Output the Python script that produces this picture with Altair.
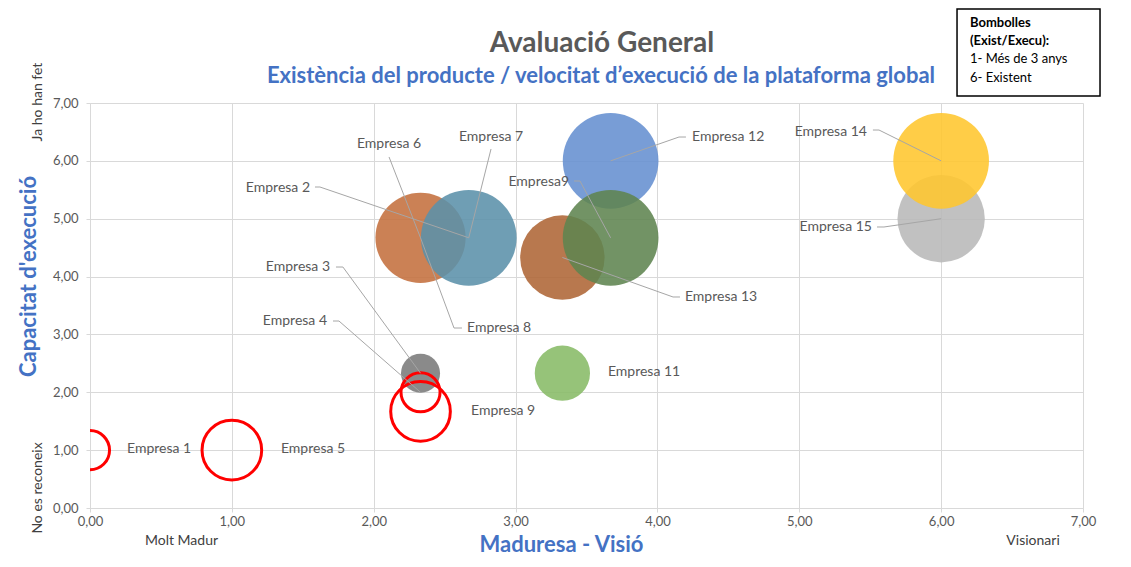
import altair as alt
import pandas as pd

# ---------------- data ----------------
bubble_names = ["Empresa 1", "Empresa 2", "Empresa 3", "Empresa 4", "Empresa 5", "Empresa 7",
                "Empresa 9", "Empresa9", "Empresa 11", "Empresa 12", "Empresa 13", "Empresa 14", "Empresa 15"]
bubble_x = [0.00, 2.33, 2.33, 2.33, 1.00, 2.67, 2.33, 3.67, 3.33, 3.67, 3.33, 6.00, 6.00]
bubble_y = [1.00, 4.67, 2.33, 2.00, 1.00, 4.67, 1.67, 4.67, 2.33, 6.00, 4.33, 6.00, 5.00]
bubble_size = [1.00, 5.33, 1.00, 1.00, 2.33, 6.00, 2.33, 6.00, 2.00, 6.00, 4.67, 6.00, 5.00]
bubble_fill = ["none", "#C4703D", "#7A7A7A", "none", "none", "#5B91AA",
               "none", "#5E8450", "#88BB66", "#6590D0", "#AE6535", "#FFC62E", "#B8B8B8"]
bubble_z = [20, 1, 7, 21, 20, 2, 22, 5, 6, 4, 3, 9, 8]

label_text = ["Empresa 1", "Empresa 5", "Empresa 9", "Empresa 11", "Empresa 4", "Empresa 3",
              "Empresa 2", "Empresa 6", "Empresa 8", "Empresa 7", "Empresa 12", "Empresa9",
              "Empresa 13", "Empresa 14", "Empresa 15"]
label_x = [0.261, 1.346, 2.686, 3.651, 1.671, 1.692, 1.551, 2.108, 2.658, 2.827, 4.244, 3.377,
           4.194, 5.477, 5.512]
label_y = [1.020, 1.020, 1.677, 2.351, 3.232, 4.165, 5.531, 6.291, 3.111, 6.412, 6.412, 5.635,
           3.647, 6.499, 4.857]
label_align = ["left", "left", "left", "left", "right", "right", "right", "center", "left",
               "center", "left", "right", "left", "right", "right"]

# leader lines: start -> elbow -> target point
leader_names = ["Empresa 4", "Empresa 3", "Empresa 2", "Empresa 6", "Empresa 8", "Empresa 7",
                "Empresa 12", "Empresa9", "Empresa 13", "Empresa 14", "Empresa 15"]
leader_x0 = [1.713, 1.734, 1.586, 2.108, 2.622, 2.827, 4.201, 3.412, 4.159, 5.519, 5.548]
leader_y0 = [3.232, 4.165, 5.548, 6.067, 3.111, 6.205, 6.412, 5.652, 3.647, 6.533, 4.857]
leader_x1 = [1.755, 1.783, 1.621, 2.108, 2.566, 2.827, 4.152, 3.454, 4.110, 5.562, 5.597]
leader_y1 = [3.232, 4.165, 5.548, 6.067, 3.111, 6.205, 6.412, 5.652, 3.647, 6.533, 4.857]
leader_tx = [2.33, 2.33, 2.67, 2.33, 2.33, 2.67, 3.67, 3.67, 3.33, 6.00, 6.00]
leader_ty = [2.00, 2.33, 4.67, 4.67, 4.67, 4.67, 6.00, 4.67, 4.33, 6.00, 5.00]

title_text = "Avaluació General"
subtitle_text = "Existència del producte / velocitat d’execució de la plataforma global"
title_pos = (3.609, 8.020)
subtitle_pos = (3.602, 7.467)

side_text = ["Molt Madur", "Visionari"]
side_x = [0.645, 6.648]
side_y = [-0.570, -0.570]
rot_text = ["Ja ho han fet", "No es reconeix"]
rot_x = [-0.367, -0.367]
rot_y = [7.017, 0.346]

legend_lines = ["Bombolles", "(Exist/Execu):", "1- Més de 3 anys", "6- Existent"]
legend_bold = [True, True, False, False]
legend_x = [6.203, 6.203, 6.203, 6.203]
legend_y = [8.383, 8.072, 7.761, 7.433]
legend_box = dict(x=[6.112], x2=[7.120], y=[8.625], y2=[7.121])

# ---------------- frames ----------------
bub = pd.DataFrame(dict(name=bubble_names, x=bubble_x, y=bubble_y, size=bubble_size,
                        fill=bubble_fill, z=bubble_z))
filled = bub[bub["fill"] != "none"]
outline = bub[bub["fill"] == "none"]

labels = pd.DataFrame(dict(text=label_text, x=label_x, y=label_y, al=label_align))

rows = []
for i, n in enumerate(leader_names):
    rows.append(dict(name=n, i=0, x=leader_x0[i], y=leader_y0[i]))
    rows.append(dict(name=n, i=1, x=leader_x1[i], y=leader_y1[i]))
    rows.append(dict(name=n, i=2, x=leader_tx[i], y=leader_ty[i]))
leaders = pd.DataFrame(rows)

titles = pd.DataFrame(dict(text=[title_text], x=[title_pos[0]], y=[title_pos[1]]))
subtitles = pd.DataFrame(dict(text=[subtitle_text], x=[subtitle_pos[0]], y=[subtitle_pos[1]]))
sides = pd.DataFrame(dict(text=side_text, x=side_x, y=side_y))
rots = pd.DataFrame(dict(text=rot_text, x=rot_x, y=rot_y))
leg = pd.DataFrame(dict(text=legend_lines, bold=legend_bold, x=legend_x, y=legend_y))
box = pd.DataFrame(legend_box)

FONT = "Lato"
lab_expr = "replace(format(datum.value, '.2f'), '.', ',')"
xs = alt.Scale(domain=[0, 7], nice=False)
ys = alt.Scale(domain=[0, 7], nice=False)
xaxis = alt.Axis(values=list(range(8)), title="Maduresa - Visió", titleFontSize=22,
                 titleFontWeight="bold", titleColor="#4472C4", titleFont=FONT,
                 titleX=471, titleY=36, titleBaseline="middle", titleAlign="center",
                 labelExpr=lab_expr, labelFontSize=13, labelColor="#595959", labelFont=FONT,
                 labelPadding=3, tickSize=4, tickColor="#D9D9D9", domainColor="#D9D9D9",
                 gridColor="#D9D9D9", grid=True, labelFlush=False)
yaxis = alt.Axis(values=list(range(8)), title="Capacitat d'execució", titleFontSize=22,
                 titleFontWeight="bold", titleColor="#4472C4", titleFont=FONT,
                 titleX=-62, titleY=173, titleAngle=270, titleBaseline="middle",
                 titleAlign="center", labelExpr=lab_expr, labelFontSize=13,
                 labelColor="#595959", labelFont=FONT, labelPadding=8, tickSize=4,
                 tickColor="#D9D9D9", domainColor="#D9D9D9", gridColor="#D9D9D9",
                 grid=True, labelFlush=False)
X = alt.X("x:Q", scale=xs, axis=xaxis)
Y = alt.Y("y:Q", scale=ys, axis=yaxis)
size_enc = alt.Size("size:Q", scale=alt.Scale(domain=[0, 6], range=[0, 9161]), legend=None)

bubbles = alt.Chart(filled).mark_circle(opacity=0.88, clip=True).encode(
    x=X, y=Y, size=size_enc, color=alt.Color("fill:N", scale=None), order=alt.Order("z:Q"))

rings = alt.Chart(outline).mark_point(filled=False, shape="circle", color="#FF0000",
                                      strokeWidth=3, opacity=1, clip=True).encode(
    x=X, y=Y, size=size_enc)

lines = alt.Chart(leaders).mark_line(color="#A6A6A6", strokeWidth=1).encode(
    x=X, y=Y, detail="name:N", order="i:Q")

text_layers = []
for al in ["left", "right", "center"]:
    text_layers.append(
        alt.Chart(labels[labels["al"] == al]).mark_text(
            align=al, baseline="middle", font=FONT, fontSize=14, color="#595959").encode(
            x=X, y=Y, text="text:N"))

title_layer = alt.Chart(titles).mark_text(align="center", baseline="middle", font=FONT,
                                          fontSize=28, fontWeight="bold",
                                          color="#595959").encode(x=X, y=Y, text="text:N")
subtitle_layer = alt.Chart(subtitles).mark_text(align="center", baseline="middle", font=FONT,
                                                fontSize=22, fontWeight="bold",
                                                color="#4472C4").encode(x=X, y=Y, text="text:N")

side_layer = alt.Chart(sides).mark_text(align="center", baseline="middle", font=FONT,
                                         fontSize=14, color="#404040").encode(
    x=X, y=Y, text="text:N")
rot_layer = alt.Chart(rots).mark_text(align="center", baseline="middle", font=FONT,
                                       fontSize=14, angle=270, color="#404040").encode(
    x=X, y=Y, text="text:N")

box_layer = alt.Chart(box).mark_rect(fill="white", stroke="black", strokeWidth=1.5).encode(
    x=X, x2="x2:Q", y=Y, y2="y2:Q")
leg_bold = alt.Chart(leg[leg["bold"]]).mark_text(align="left", baseline="middle", font=FONT,
                                                 fontSize=13, fontWeight="bold",
                                                 color="#000000").encode(x=X, y=Y, text="text:N")
leg_norm = alt.Chart(leg[~leg["bold"]]).mark_text(align="left", baseline="middle", font=FONT,
                                                  fontSize=13, color="#000000").encode(
    x=X, y=Y, text="text:N")

chart = alt.layer(bubbles, rings, lines, *text_layers, title_layer, subtitle_layer,
                  side_layer, rot_layer, box_layer, leg_bold, leg_norm).properties(
    width=993, height=405,
    autosize=alt.AutoSizeParams(type="none"),
    padding={"left": 82, "top": 95, "right": 38, "bottom": 50},
    background="white",
).configure_view(stroke=None)

chart.save("out.html", embed_options={"renderer": "svg", "actions": False})
